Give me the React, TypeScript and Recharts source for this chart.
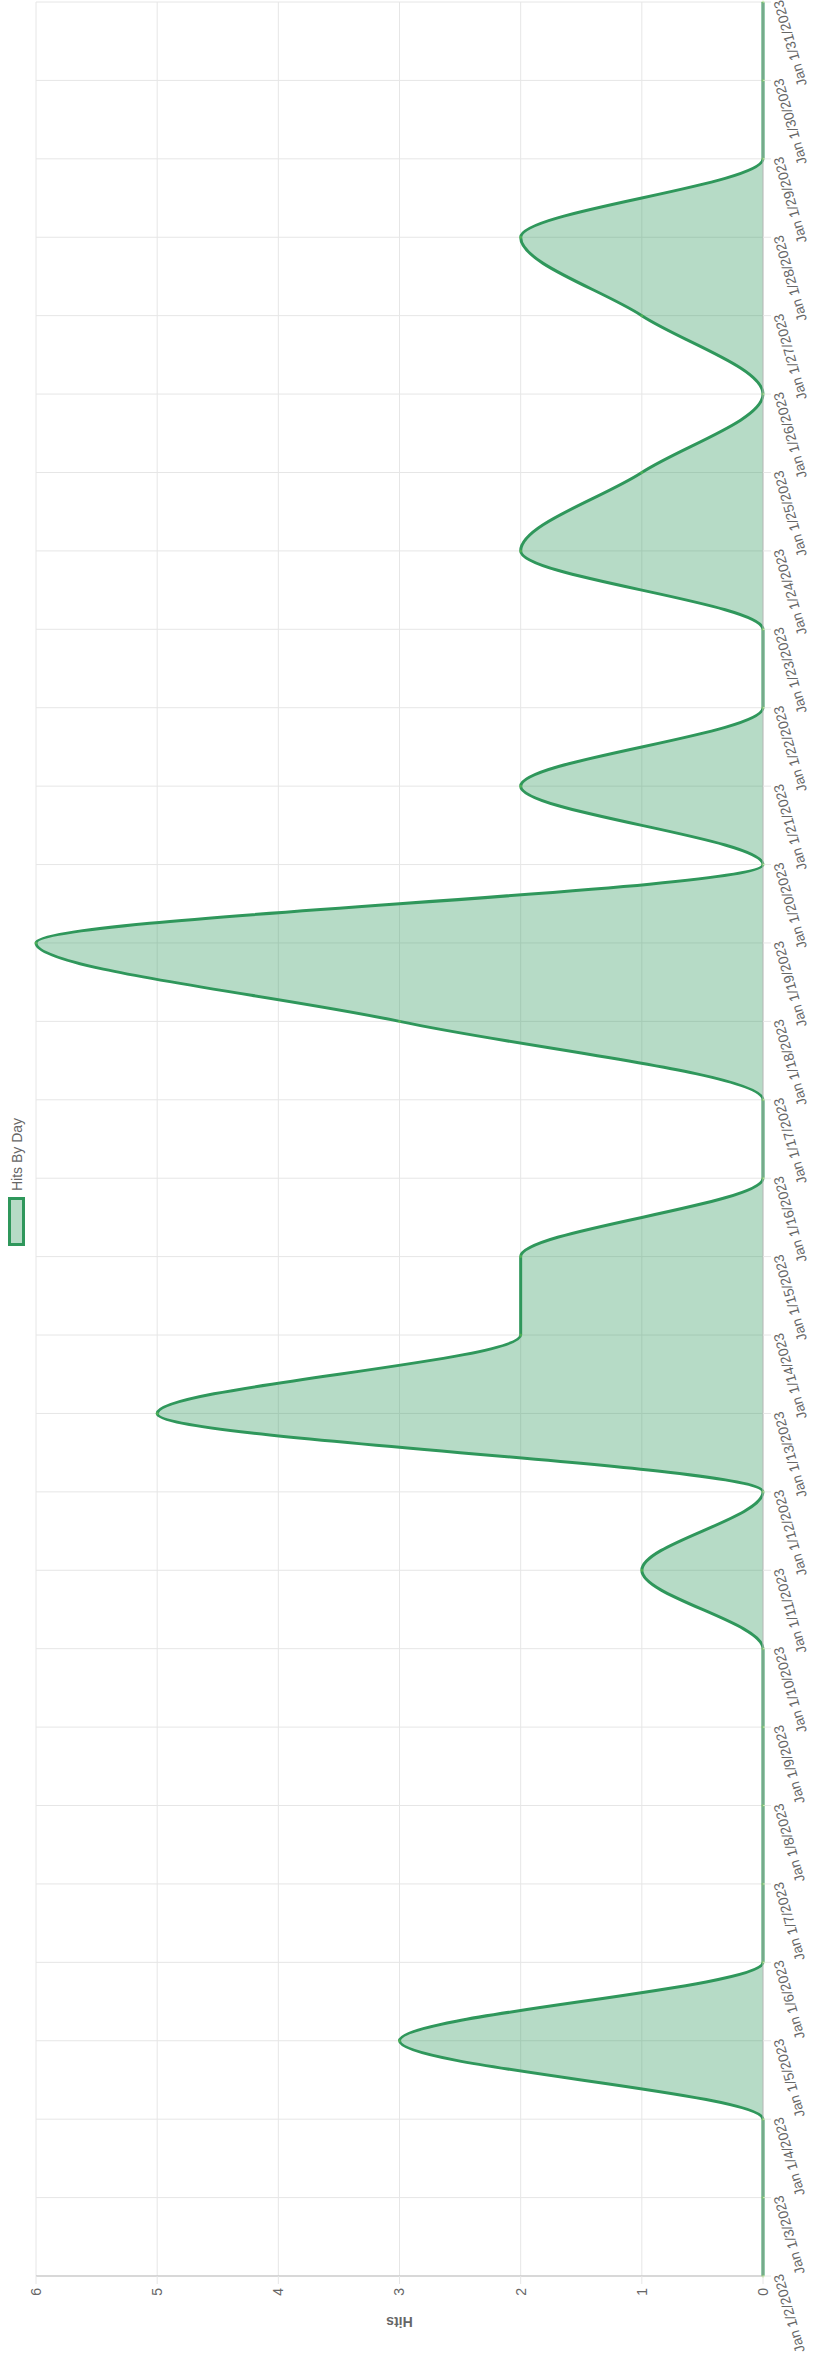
import { AreaChart, Area, XAxis, YAxis, CartesianGrid } from "recharts";

const DATES = [
  "Jan 1/2/2023", "Jan 1/3/2023", "Jan 1/4/2023", "Jan 1/5/2023", "Jan 1/6/2023",
  "Jan 1/7/2023", "Jan 1/8/2023", "Jan 1/9/2023", "Jan 1/10/2023", "Jan 1/11/2023",
  "Jan 1/12/2023", "Jan 1/13/2023", "Jan 1/14/2023", "Jan 1/15/2023", "Jan 1/16/2023",
  "Jan 1/17/2023", "Jan 1/18/2023", "Jan 1/19/2023", "Jan 1/20/2023", "Jan 1/21/2023",
  "Jan 1/22/2023", "Jan 1/23/2023", "Jan 1/24/2023", "Jan 1/25/2023", "Jan 1/26/2023",
  "Jan 1/27/2023", "Jan 1/28/2023", "Jan 1/29/2023", "Jan 1/30/2023", "Jan 1/31/2023",
];

const HITS = [
  0, 0, 0, 3, 0, 0, 0, 0, 0, 1,
  0, 5, 2, 2, 0, 0, 3, 6, 0, 2,
  0, 0, 2, 1, 0, 1, 2, 0, 0, 0,
];

const HIT_TICKS = [0, 1, 2, 3, 4, 5, 6];

const SERIES_NAME = "Hits By Day";
const GREEN = "#2f975b";
const FONT = "'Liberation Sans', Arial, Helvetica, sans-serif";

// chart is drawn landscape, then turned a quarter to fit the tall page
const W = 2364;
const H = 814;

const data = DATES.map((date, i) => ({ date, hits: HITS[i] }));

function DateTick(props: any) {
  const { x, y, payload } = props;
  return (
    <text
      x={x}
      y={y}
      dy={10}
      textAnchor="end"
      fill="#666"
      fontSize={14}
      fontFamily={FONT}
      transform={`rotate(-16, ${x}, ${y})`}
    >
      {payload.value}
    </text>
  );
}

export default function App() {
  return (
    <div style={{ position: "absolute", left: 0, top: 0, width: H, height: W, overflow: "hidden", background: "#fff" }}>
      <div
        style={{
          position: "absolute",
          left: 0,
          top: 0,
          width: W,
          height: H,
          transformOrigin: "0 0",
          transform: `translateY(${W}px) rotate(-90deg)`,
        }}
      >
        <div
          style={{
            position: "absolute",
            top: 8,
            left: 0,
            width: W,
            display: "flex",
            justifyContent: "center",
            alignItems: "center",
            fontFamily: FONT,
            fontSize: 14,
            color: "#666",
            height: 17,
          }}
        >
          <span
            style={{
              display: "inline-block",
              width: 49,
              height: 17,
              boxSizing: "border-box",
              border: `3px solid ${GREEN}`,
              background: "rgba(47,151,91,0.35)",
              marginRight: 6,
            }}
          />
          <span>{SERIES_NAME}</span>
        </div>
        <AreaChart width={W} height={H} data={data} margin={{ top: 36, right: 2, bottom: 0, left: 0 }}>
          <CartesianGrid stroke="#e6e6e6" />
          <XAxis
            dataKey="date"
            interval={0}
            height={51}
            tickSize={8}
            tickMargin={2}
            tick={<DateTick />}
            tickLine={{ stroke: "#e6e6e6" }}
            axisLine={{ stroke: "#bdbdbd" }}
          />
          <YAxis
            domain={[0, 6]}
            ticks={HIT_TICKS}
            width={88}
            tickSize={8}
            tickMargin={4}
            tick={{ fill: "#666", fontSize: 14, fontFamily: FONT }}
            tickLine={{ stroke: "#e6e6e6" }}
            axisLine={{ stroke: "#bdbdbd" }}
            label={{ value: "Hits", angle: -90, position: "center", fill: "#666", fontSize: 14, fontWeight: "bold", fontFamily: FONT, dx: -2 }}
          />
          <Area
            type="monotone"
            dataKey="hits"
            name={SERIES_NAME}
            stroke={GREEN}
            strokeWidth={3}
            fill={GREEN}
            fillOpacity={0.35}
            dot={{ r: 1.5, fill: "#86dc4e", stroke: "none" }}
            activeDot={false}
            isAnimationActive={false}
          />
        </AreaChart>
      </div>
    </div>
  );
}
